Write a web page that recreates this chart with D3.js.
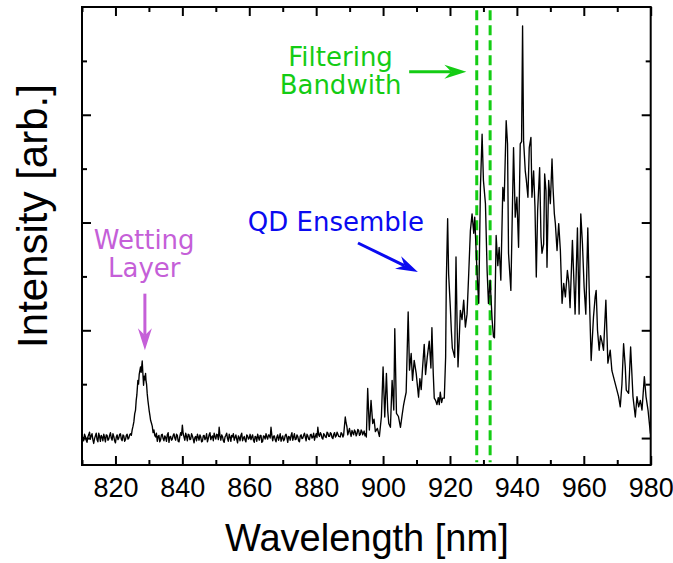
<!DOCTYPE html>
<html>
<head>
<meta charset="utf-8">
<script src="https://cdn.jsdelivr.net/npm/d3@7"></script>
<style>
  html, body { margin: 0; padding: 0; background: #fff; }
  svg { display: block; }
</style>
</head>
<body>
<svg id="chart" width="673" height="563"></svg>
<script>
// Photoluminescence spectrum: [wavelength (nm), intensity (arb.)]
const spectrum = [
  [810.25,0.02],[810.5,-0.05],[810.75,0.07],[811,0.03],[811.25,-0.04],[811.5,-0.08],[811.75,0.02],[812,0.06],
  [812.25,0.11],[812.5,-0.02],[812.75,0.04],[813,0.08],[813.25,-0.03],[813.5,-0.1],[813.75,-0.01],[814,0.04],
  [814.25,0.09],[814.5,-0.03],[814.75,-0.07],[815,0.09],[815.25,0.03],[815.5,-0.06],[815.75,0.05],[816,0.02],
  [816.25,-0.05],[816.5,0.07],[816.75,0.01],[817,-0.07],[817.25,0.06],[817.5,0.05],[817.75,-0.04],[818,-0.02],
  [818.25,0.05],[818.5,0.1],[818.75,0.0],[819,-0.04],[819.25,0.08],[819.5,0.03],[819.75,-0.05],[820,-0.09],
  [820.25,0.02],[820.5,0.06],[820.75,-0.03],[821,0.0],[821.25,0.07],[821.5,0.08],[821.75,-0.02],[822,-0.05],
  [822.25,0.06],[822.5,0.04],[822.75,-0.06],[823,-0.03],[823.25,0.05],[823.5,0.07],[823.75,-0.02],[824,0.0],
  [824.25,0.06],[824.5,0.08],[824.75,0.05],
  // wetting layer emission
  [825.0,0.15],[825.25,0.22],[825.5,0.3],[825.75,0.45],[826.0,0.52],[826.2,0.7],[826.4,0.8],[826.7,1.07],
  [826.9,1.0],[827.1,1.18],[827.3,1.25],[827.5,1.32],[827.7,1.22],[827.8,1.3],[828.0,1.43],[828.2,1.2],
  [828.4,0.98],[828.6,1.15],[828.8,1.08],[829.0,1.2],[829.15,1.05],[829.3,1.0],[829.5,0.82],[829.7,0.7],
  [829.9,0.6],[830.1,0.5],[830.3,0.42],[830.5,0.33],[830.75,0.28],[831.0,0.22],[831.25,0.1],[831.5,0.15],
  [831.75,0.05],
  [832,0.02],[832.25,0.09],[832.5,-0.06],[832.75,0.03],[833,0.05],[833.25,-0.07],[833.5,-0.03],[833.75,0.06],
  [834,0.07],[834.25,-0.01],[834.5,-0.05],[834.75,0.04],[835,0.01],[835.25,-0.06],[835.5,0.06],[835.75,0.1],
  [836,-0.08],[836.25,0.02],[836.5,0.03],[836.75,-0.04],[837,-0.02],[837.25,0.05],[837.5,0.08],[837.75,0.0],
  [838,-0.04],[838.25,0.07],[838.5,0.05],[838.75,-0.06],[839,-0.07],[839.25,0.03],[839.5,0.1],[839.75,0.05],
  [840,0.24],[840.25,0.08],[840.5,0.02],[840.75,-0.04],[841,0.09],[841.25,0.03],[841.5,-0.05],[841.75,0.07],
  [842,0.06],[842.25,-0.03],[842.5,-0.02],[842.75,0.08],[843,0.04],[843.25,-0.02],[843.5,-0.09],[843.75,0.01],
  [844,0.03],[844.25,-0.05],[844.5,0.07],[844.75,0.02],[845,-0.04],[845.25,0.06],[845.5,0.02],[845.75,-0.07],
  [846,-0.06],[846.25,0.04],[846.5,0.05],[846.75,-0.03],[847,0.0],[847.25,0.08],[847.5,-0.07],[847.75,-0.01],
  [848,0.06],[848.25,0.1],[848.5,-0.03],[848.75,0.02],[849,0.04],[849.25,-0.05],[849.5,0.09],[849.75,0.03],
  [850,-0.02],[850.25,0.07],[850.5,0.06],[850.75,-0.03],[851,0.2],[851.25,0.04],[851.5,-0.04],[851.75,0.06],
  [852,0.03],[852.25,-0.05],[852.5,-0.08],[852.75,0.02],[853,0.05],[853.25,0.09],[853.5,-0.01],[853.75,-0.06],
  [854,0.07],[854.25,0.02],[854.5,-0.06],[854.75,0.05],[855,0.02],[855.25,0.08],[855.5,-0.04],[855.75,0.01],
  [856,0.06],[856.25,-0.02],[856.5,-0.09],[856.75,0.04],[857,0.01],[857.25,-0.05],[857.5,0.05],[857.75,0.09],
  [858,-0.05],[858.25,0.0],[858.5,0.03],[858.75,-0.04],[859,-0.07],[859.25,0.06],[859.5,0.04],[859.75,-0.02],
  [860,0.0],[860.25,0.07],[860.5,-0.03],[860.75,0.02],[861,0.06],[861.25,-0.04],[861.5,-0.08],[861.75,0.03],
  [862,0.02],[862.25,-0.06],[862.5,0.07],[862.75,0.01],[863,-0.04],[863.25,0.05],[863.5,0.05],[863.75,-0.08],
  [864,-0.06],[864.25,0.04],[864.5,0.03],[864.75,-0.02],[865,0.08],[865.25,0.02],[865.5,-0.02],[865.75,0.06],
  [866,0.05],[866.25,0.0],[866.5,0.2],[866.75,0.05],[867,-0.05],[867.25,0.03],[867.5,0.04],[867.75,-0.03],
  [868,-0.07],[868.25,0.02],[868.5,0.06],[868.75,-0.04],[869,0.01],[869.25,0.08],[869.5,-0.06],[869.75,0.0],
  [870,0.04],[870.25,-0.05],[870.5,-0.03],[870.75,0.05],[871,0.07],[871.25,0.01],[871.5,-0.08],[871.75,0.03],
  [872,0.02],[872.25,-0.04],[872.5,0.05],[872.75,0.1],[873,-0.04],[873.25,0.02],[873.5,0.08],[873.75,-0.03],
  [874,-0.02],[874.25,0.06],[874.5,0.03],[874.75,-0.05],[875,-0.07],[875.25,0.04],[875.5,0.06],[875.75,-0.01],
  [876,0.0],[876.25,0.05],[876.5,0.09],[876.75,0.02],[877,-0.05],[877.25,0.07],[877.5,0.04],[877.75,-0.02],
  [878,-0.03],[878.25,0.06],[878.5,0.07],[878.75,0.0],[879,0.02],[879.25,0.09],[879.5,-0.04],[879.75,0.03],
  [880,0.08],[880.25,0.01],[880.5,0.2],[880.75,0.06],[881,0.03],[881.25,0.1],[881.5,0.07],[881.75,0.0],
  [882,-0.02],[882.25,0.08],[882.5,0.06],[882.75,0.02],[883,0.01],[883.25,0.11],[883.5,0.09],[883.75,0.03],
  [884,0.03],[884.25,0.1],[884.5,0.08],[884.75,0.01],[885,-0.01],[885.25,0.07],[885.5,0.1],[885.75,0.02],
  [886,0.04],[886.25,0.11],[886.5,0.07],[886.75,0.03],
  // quantum dot ensemble
  [887.2,0.02],[887.45,0.1],[887.7,0.08],[888.0,0.02],[888.2,0.05],[888.7,0.39],[888.95,0.28],[889.2,0.21],
  [889.45,0.06],[889.7,0.12],[889.95,0.18],[890.2,0.09],[890.45,0.03],[890.7,0.14],[890.95,0.1],[891.2,0.06],
  [891.45,0.15],[891.7,0.12],[891.95,0.04],[892.2,0.08],[892.45,0.16],[892.7,0.14],[892.95,0.05],[893.2,0.07],
  [893.45,0.15],[893.7,0.12],[893.9,0.06],[894.1,0.09],[894.35,0.13],[894.6,0.04],[894.8,0.08],
  [895.0,0.02],[895.4,0.92],[895.9,0.15],[896.4,0.70],[896.9,0.27],[897.3,0.35],[897.7,0.12],[898.3,0.18],
  [898.9,0.03],[899.5,0.4],[900.0,1.32],[900.5,0.39],[901.0,1.20],[901.4,0.5],[901.7,0.27],[902.2,0.20],
  [902.7,1.07],[903.2,0.52],[903.5,2.03],[904.0,0.46],[904.6,0.40],[905.2,0.20],[905.7,0.43],[906.1,0.6],
  [906.4,0.70],[906.9,0.85],[907.5,2.34],[907.9,1.26],[908.4,1.57],[908.8,1.07],[909.3,1.44],[909.9,1.20],
  [910.3,0.95],[910.6,0.76],[911.0,1.1],[911.4,0.9],[911.8,1.3],[912.3,1.74],[912.7,1.18],[913.2,1.5],
  [913.8,1.80],[914.3,1.30],[914.6,2.05],[915.0,1.2],[915.3,0.74],[915.7,0.7],[916.1,0.62],[916.5,0.75],
  [916.8,0.62],[917.1,0.85],[917.5,0.66],[917.8,0.74],[918.3,0.74],[918.7,1.5],[918.9,2.9],[919.3,4.07],
  [919.6,3.04],[920.1,2.43],[920.4,2.0],[920.7,1.67],[921.0,1.6],[921.4,1.50],[921.8,3.36],[922.1,2.2],
  [922.4,1.32],[922.8,1.9],[923.1,2.37],[923.6,2.2],[924.1,2.56],[924.6,2.06],[925.1,2.3],[925.6,3.05],
  [926.1,3.85],[926.6,4.16],[927.1,3.80],[927.4,4.10],[927.8,3.5],[928.1,3.05],[928.6,2.50],[929.1,4.65],
  [929.6,5.64],[930.0,4.78],[930.6,4.35],[931.1,3.11],[931.5,2.50],[932.0,2.93],[932.6,2.19],[933.0,1.88],
  [933.3,1.86],[933.8,3.76],[934.3,3.2],[934.7,3.54],[935.2,2.93],[935.8,4.65],[936.2,4.40],[936.8,5.89],
  [937.2,5.46],[937.5,3.43],[938.2,2.74],[939.0,5.39],[939.5,4.10],[940.0,4.47],[940.5,3.54],[941.0,5.46],
  [941.4,5.5],[941.7,7.65],[942.0,5.52],[942.5,4.96],[942.8,4.8],[943.3,4.47],[943.7,5.39],[944.2,5.58],
  [944.5,4.47],[945.0,4.96],[945.4,4.3],[945.8,2.99],[946.2,4.22],[946.8,5.02],[947.2,3.73],[947.5,3.43],
  [948.0,3.60],[948.3,4.90],[948.7,4.59],[949.0,3.17],[949.5,4.78],[950.0,4.35],[950.5,5.18],[950.8,4.65],
  [951.2,4.16],[951.5,3.98],[952.0,3.48],[952.5,3.98],[953.0,3.48],[953.5,2.50],[954.0,2.87],[954.5,2.62],
  [955.1,3.11],[955.5,2.9],[955.9,2.42],[956.6,3.67],[957.4,2.30],[958.1,3.90],[958.6,2.30],[959.1,4.16],
  [959.6,3.60],[960.1,2.80],[960.6,2.30],[961.2,3.90],[961.6,2.80],[962.2,1.44],[962.9,2.25],[963.4,2.62],
  [963.7,2.74],[964.1,2.0],[964.6,1.63],[965.0,1.9],[965.4,1.80],[965.9,1.63],[966.6,2.56],[967.2,1.39],
  [967.9,1.63],[968.4,1.25],[968.9,1.13],[969.4,1.01],[969.9,0.89],[970.4,0.77],[970.9,0.58],[971.4,1.0],
  [971.9,1.75],[972.4,1.32],[972.7,0.89],[973.4,0.83],[974.0,1.69],[974.7,0.77],[975.4,0.39],[975.9,0.77],
  [976.4,0.58],[976.9,0.70],[977.4,0.52],[978.1,1.14],[978.6,0.77],[979.2,0.52],[979.9,0.09],[980.2,0.05]
];

// Axis ticks
const xMajorTicks = [820, 840, 860, 880, 900, 920, 940, 960, 980];
const xTickLabels = ["820", "840", "860", "880", "900", "920", "940", "960", "980"];
const xMinorTicks = [810, 830, 850, 870, 890, 910, 930, 950, 970];
const yMajorTicks = [0, 2, 4, 6];
const yMinorTicks = [1, 3, 5, 7];

// Filter passband edges (nm)
const filterEdges = [928, 932];

const xDomain = [810, 980];
const yDomain = [-0.5, 8];

const svg = d3.select("#chart");
const plotLeft = 82, plotRight = 650.7, plotTop = 7, plotBottom = 465;

const x = d3.scaleLinear().domain(xDomain).range([plotLeft, plotRight]);
const y = d3.scaleLinear().domain(yDomain).range([plotBottom, plotTop]);

const tickFont = "'Liberation Sans', Arial, sans-serif";
const noteFont = "'DejaVu Sans', Verdana, sans-serif";

svg.append("defs").append("clipPath").attr("id", "plot-clip")
  .append("rect")
  .attr("x", plotLeft).attr("y", plotTop)
  .attr("width", plotRight - plotLeft).attr("height", plotBottom - plotTop);

// Filter passband edges
svg.append("g").selectAll("line")
  .data(filterEdges)
  .join("line")
  .attr("x1", d => x(d)).attr("x2", d => x(d))
  .attr("y1", y(7.94)).attr("y2", y(-0.45))
  .attr("stroke", "#14cc14")
  .attr("stroke-width", 3)
  .attr("stroke-dasharray", "10,5");

// Spectrum
const line = d3.line().x(d => x(d[0])).y(d => y(d[1]));
svg.append("path")
  .datum(spectrum)
  .attr("clip-path", "url(#plot-clip)")
  .attr("fill", "none")
  .attr("stroke", "#000")
  .attr("stroke-width", 1.35)
  .attr("stroke-linejoin", "round")
  .attr("d", line);

// Axes with inward ticks
function styleAxis(g) {
  g.select(".domain").remove();
  g.selectAll(".tick line").attr("stroke", "#000").attr("stroke-width", 2);
}
const noLabel = () => "";

svg.append("g").attr("transform", `translate(0,${plotBottom})`)
  .call(d3.axisBottom(x).tickValues(xMajorTicks).tickSize(-9).tickPadding(13)
    .tickFormat((d, i) => xTickLabels[i]))
  .call(styleAxis)
  .call(g => g.selectAll("text")
    .attr("font-family", tickFont).attr("font-size", 27).attr("fill", "#000"));

svg.append("g").attr("transform", `translate(0,${plotBottom})`)
  .call(d3.axisBottom(x).tickValues(xMinorTicks).tickSize(-5).tickFormat(noLabel))
  .call(styleAxis);

svg.append("g").attr("transform", `translate(0,${plotTop})`)
  .call(d3.axisTop(x).tickValues(xMajorTicks).tickSize(-9).tickFormat(noLabel))
  .call(styleAxis);
svg.append("g").attr("transform", `translate(0,${plotTop})`)
  .call(d3.axisTop(x).tickValues(xMinorTicks).tickSize(-5).tickFormat(noLabel))
  .call(styleAxis);

svg.append("g").attr("transform", `translate(${plotLeft},0)`)
  .call(d3.axisLeft(y).tickValues(yMajorTicks).tickSize(-9).tickFormat(noLabel))
  .call(styleAxis);
svg.append("g").attr("transform", `translate(${plotLeft},0)`)
  .call(d3.axisLeft(y).tickValues(yMinorTicks).tickSize(-5).tickFormat(noLabel))
  .call(styleAxis);

svg.append("g").attr("transform", `translate(${plotRight},0)`)
  .call(d3.axisRight(y).tickValues(yMajorTicks).tickSize(-9).tickFormat(noLabel))
  .call(styleAxis);
svg.append("g").attr("transform", `translate(${plotRight},0)`)
  .call(d3.axisRight(y).tickValues(yMinorTicks).tickSize(-5).tickFormat(noLabel))
  .call(styleAxis);

// Frame
svg.append("rect")
  .attr("x", plotLeft).attr("y", plotTop)
  .attr("width", plotRight - plotLeft).attr("height", plotBottom - plotTop)
  .attr("fill", "none").attr("stroke", "#000").attr("stroke-width", 2);

// Axis titles
svg.append("text")
  .attr("x", (plotLeft + plotRight) / 2 + 0.5).attr("y", 551)
  .attr("text-anchor", "middle")
  .attr("font-family", tickFont).attr("font-size", 38)
  .text("Wavelength [nm]");

svg.append("text")
  .attr("transform", `translate(47,${(plotTop + plotBottom) / 2 - 20}) rotate(-90)`)
  .attr("text-anchor", "middle")
  .attr("font-family", tickFont).attr("font-size", 42)
  .text("Intensity [arb.]");

// Annotations (positions in data units)
const notes = [
  { lines: ["Filtering", "Bandwith"], x: 887.3, y: [6.9, 6.38], color: "#14cc14",
    arrow: [[907.8, 6.8], [924.9, 6.8]] },
  { lines: ["QD Ensemble"], x: 885.9, y: [3.84], color: "#0a0af0",
    arrow: [[892.5, 3.62], [910.4, 3.08]] },
  { lines: ["Wetting", "Layer"], x: 828.6, y: [3.51, 2.99], color: "#c55fd8",
    arrow: [[828.8, 2.68], [828.8, 1.63]] }
];

function drawArrow(g, p0, p1, color) {
  const x0 = x(p0[0]), y0 = y(p0[1]), x1 = x(p1[0]), y1 = y(p1[1]);
  const len = Math.hypot(x1 - x0, y1 - y0);
  const ux = (x1 - x0) / len, uy = (y1 - y0) / len;
  const nx = -uy, ny = ux;
  const L = 22, W = 7, notch = 15;
  g.append("line")
    .attr("x1", x0).attr("y1", y0)
    .attr("x2", x1 - ux * notch).attr("y2", y1 - uy * notch)
    .attr("stroke", color).attr("stroke-width", 3);
  const pts = [
    [x1, y1],
    [x1 - ux * L + nx * W, y1 - uy * L + ny * W],
    [x1 - ux * notch, y1 - uy * notch],
    [x1 - ux * L - nx * W, y1 - uy * L - ny * W]
  ];
  g.append("path")
    .attr("d", "M" + pts.map(p => p.join(",")).join("L") + "Z")
    .attr("fill", color);
}

const noteLayer = svg.append("g");
notes.forEach(n => {
  n.lines.forEach((t, i) => {
    noteLayer.append("text")
      .attr("x", x(n.x)).attr("y", y(n.y[i]))
      .attr("text-anchor", "middle")
      .attr("font-family", noteFont).attr("font-size", 26)
      .attr("fill", n.color)
      .text(t);
  });
  drawArrow(noteLayer, n.arrow[0], n.arrow[1], n.color);
});
</script>
</body>
</html>
